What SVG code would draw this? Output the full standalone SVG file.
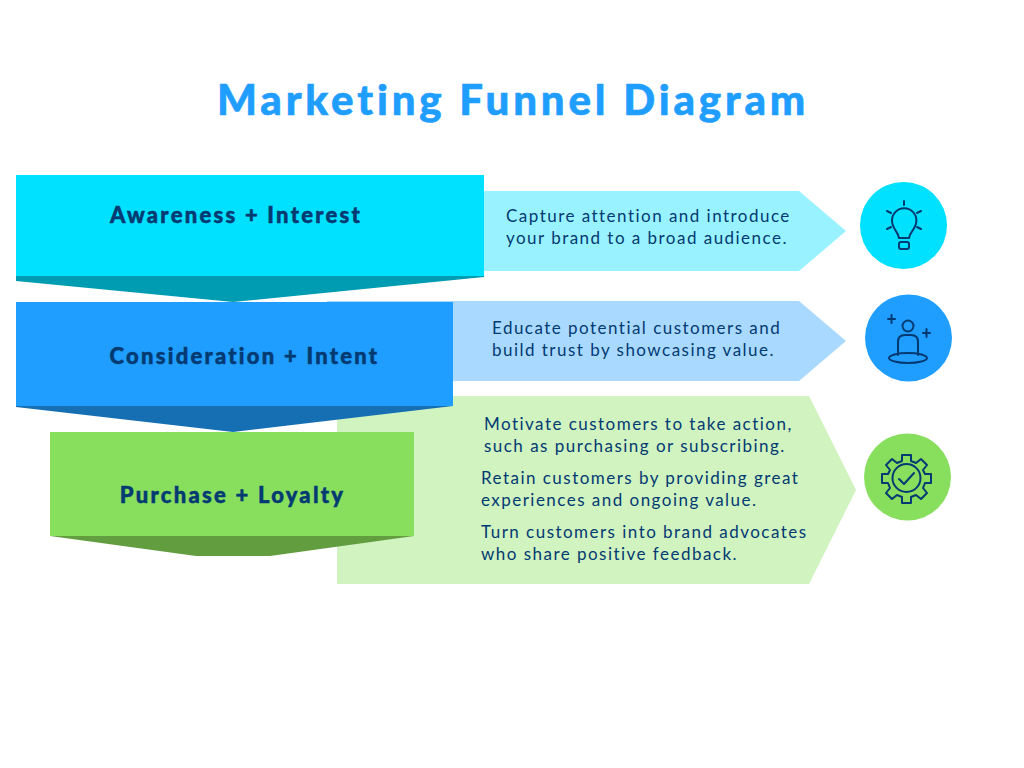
<svg xmlns="http://www.w3.org/2000/svg" width="1024" height="768" viewBox="0 0 1024 768">
<style>
.t{font-family:"Lato","Liberation Sans",sans-serif}
.title{font-size:42px;font-weight:900;fill:#1f9eff;stroke:#1f9eff;stroke-width:.6px;letter-spacing:3.85px;text-anchor:middle}
.h{font-size:22px;font-weight:900;fill:#033a72;stroke:#033a72;stroke-width:.5px;letter-spacing:2.25px;text-anchor:middle}
.b{font-size:17px;fill:#033a72;letter-spacing:1.47px}
.i{fill:none;stroke:#033a72;stroke-width:2;stroke-linecap:round;stroke-linejoin:round}
</style>
<rect width="1024" height="768" fill="#fff"/>
<text class="t title" x="513" y="115">Marketing Funnel Diagram</text>
<g id="desc-awareness">
<polygon points="470,191 799,191 846,231 799,271 470,271" fill="#99f2ff"/>
<text class="t b" x="506" y="222">Capture attention and introduce</text>
<text class="t b" x="506" y="244">your brand to a broad audience.</text>
</g>
<g id="desc-consideration">
<polygon points="327,301 799,301 846,341 799,381 327,381" fill="#a9d9ff"/>
<text class="t b" x="492" y="334">Educate potential customers and</text>
<text class="t b" x="492" y="356">build trust by showcasing value.</text>
</g>
<g id="desc-purchase">
<polygon points="337,396 809,396 856,490 809,584 337,584" fill="#d0f3c0"/>
<text class="t b" x="484" y="430">Motivate customers to take action,</text>
<text class="t b" x="484" y="452">such as purchasing or subscribing.</text>
<text class="t b" x="481" y="484">Retain customers by providing great</text>
<text class="t b" x="481" y="506">experiences and ongoing value.</text>
<text class="t b" x="481" y="538">Turn customers into brand advocates</text>
<text class="t b" x="481" y="560">who share positive feedback.</text>
</g>
<g id="stage-awareness">
<polygon points="16,276 484,276 484,277 233,302 16,281" fill="#009db2"/>
<rect x="16" y="175" width="468" height="101" fill="#00e0ff"/>
<text class="t h" x="236" y="223">Awareness + Interest</text>
</g>
<g id="stage-consideration">
<polygon points="16,406 453,406 453,406 233,432 16,407" fill="#156fb2"/>
<rect x="16" y="302" width="437" height="104" fill="#1f9eff"/>
<text class="t h" x="244.500" y="364">Consideration + Intent</text>
</g>
<g id="stage-purchase">
<polygon points="50,536 414,536 270,556 196,556" fill="#629d40"/>
<rect x="50" y="432" width="364" height="104" fill="#88df5e"/>
<text class="t h" x="232.500" y="503">Purchase + Loyalty</text>
</g>
<g id="icon-bulb">
<circle cx="903.500" cy="225.500" r="43.500" fill="#00e0ff"/>
<g class="i">
<path d="M899 238 C898 231 892 229 892 220.500 A12.200 12.200 0 1 1 916.400 220.500 C916.400 229 910 231 909 238 Z"/>
<rect x="899" y="242" width="10" height="7" rx="2"/>
<path d="M904 201V205M887 211L891 213M921 211L917 213M887 229L891 227M921 229L917 227"/>
</g>
</g>
<g id="icon-person">
<circle cx="908.500" cy="338" r="43.500" fill="#1f9eff"/>
<g class="i">
<circle cx="908" cy="326" r="5.500"/>
<path d="M898 355V342Q898 335 905 335H911Q918 335 918 342V355"/>
<ellipse cx="908" cy="358" rx="19" ry="5"/>
<path d="M888 319H895M891.500 315V323M923 333H930M926.500 329V337"/>
</g>
</g>
<g id="icon-gear">
<circle cx="907.500" cy="477" r="43.500" fill="#88df5e"/>
<g class="i">
<circle cx="906.500" cy="478" r="14"/>
<path d="M899 479L904 484L914 473"/>
<path d="M902 455H911V461L916 463L921 459L927 465L923 470L925 474H931V483H925L923 488L927 493L921 499L916 495L911 497V503H902V497L897 495L892 499L886 493L890 488L888 483H882V474H888L890 470L886 465L892 459L897 463L902 461Z"/>
</g>
</g>
</svg>
